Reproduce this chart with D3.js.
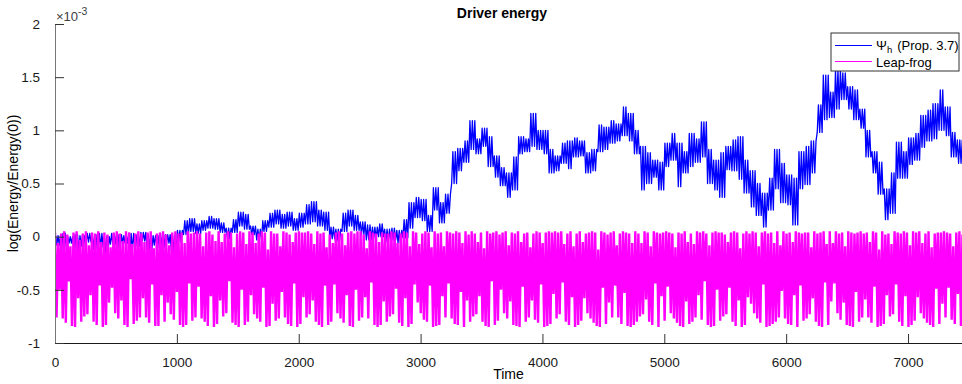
<!DOCTYPE html>
<html>
<head>
<meta charset="utf-8">
<script src="https://cdn.jsdelivr.net/npm/d3@7"></script>
<style>
body { margin: 0; background: #fff; }
text { font-family: "Liberation Sans", Arial, Helvetica, sans-serif; }
</style>
</head>
<body>
<div id="chart-area"></div>
<script>
// axis ticks
var xTicks = [0, 1000, 2000, 3000, 4000, 5000, 6000, 7000];
var yTicks = [-1, -0.5, 0, 0.5, 1, 1.5, 2];
var xMax = 7443;

// Psi_h (Prop. 3.7): max / min of the trace in each 50-unit time bin (x 1e-3)
var blueStep = 50;
var blueHi = [
 .01,.03,.00,.02,.01,.03,.02,.03,.00,.03,.02,.01,.03,.02,.04,.02,.01,.03,.02,.01,
 .06,.15,.17,.12,.15,.19,.17,.13,.08,.16,
 .23,.21,.10,.07,.15,.22,.25,.21,.23,.17,
 .22,.30,.33,.25,.23,.09,.07,.22,.25,.20,
 .14,.11,.09,.12,.07,.08,.06,.16,.32,.37,
 .35,.20,.46,.32,.40,.80,.83,.90,1.09,.92,
 1.02,.94,.76,.65,.60,.75,.94,.92,1.16,1.00,
 1.00,.82,.76,.88,.90,.93,.90,.79,.82,1.05,
 1.03,1.09,1.06,1.22,1.16,1.00,.85,.79,.72,.70,
 .88,.97,.88,.80,.97,.92,1.08,.82,.72,.79,
 .85,.91,.94,.72,.62,.50,.41,.55,.82,.69,
 .58,.55,.80,.85,.90,1.24,1.52,1.36,1.57,1.54,
 1.41,1.38,1.20,1.00,.80,.70,.45,.60,.89,.80,
 .93,.97,1.14,1.19,1.25,1.38,1.22,.98,.91
];
var blueLo = [
 -.08,-.12,-.06,-.14,-.09,-.05,-.12,-.10,-.15,-.07,-.11,-.06,-.13,-.09,-.04,-.12,-.08,-.10,-.06,-.13,
 -.05,.02,.05,.03,.06,.08,.07,.04,-.02,.04,
 .10,.07,.02,-.03,.05,.09,.12,.08,.10,.06,
 .09,.12,.14,.10,.06,-.02,-.04,.05,.10,.06,
 .02,-.03,-.02,.00,-.05,-.03,-.06,-.01,.08,.18,
 .15,.05,.25,.13,.22,.50,.62,.70,.82,.78,
 .85,.66,.56,.48,.37,.44,.78,.80,.85,.82,
 .78,.60,.62,.69,.64,.75,.76,.60,.62,.80,
 .82,.88,.90,.95,.90,.78,.44,.50,.56,.44,
 .66,.72,.47,.60,.66,.70,.75,.50,.44,.37,
 .63,.62,.54,.41,.28,.20,.09,.25,.45,.32,
 .30,.11,.45,.49,.60,.98,1.10,1.12,1.20,1.29,
 1.20,1.10,1.02,.75,.60,.40,.16,.22,.55,.55,
 .68,.72,.84,.90,.92,1.00,.95,.75,.69
];

// Leap-frog: peak and trough of every oscillation (x 1e-3), one row per scallop
var leapPeriod = 25.33;
var leapPeak = [
 .04,-.06,.03,.05,.02,-.09,.04,.05,-.03,
 .03,.05,-.08,.04,.03,.05,-.05,.04,.02,
 -.10,.04,.05,.03,-.04,.05,.04,-.07,.03,
 .05,.03,-.05,.04,.05,-.11,.03,.04,.05,
 .02,-.08,.04,.05,.03,.04,-.06,.05,.03,
 .04,.05,.03,-.09,.04,.05,.02,-.04,.05,
 -.05,.03,.05,.04,-.10,.03,.05,.04,-.07,
 .05,.04,-.06,.03,.05,.04,-.12,.05,.03,
 .03,-.09,.05,.04,.02,-.05,.04,.05,.04,
 .04,.05,.03,-.07,.05,.03,.04,-.10,.02,
 -.06,.04,.05,.03,-.08,.04,.05,.03,.05,
 .05,.02,-.11,.05,.04,.03,-.05,.04,.03,
 .03,.05,.04,-.06,.03,.05,.04,-.09,.05,
 .04,-.07,.03,.05,.04,-.10,.05,.03,.04,
 -.09,.05,.04,.03,.05,.04,-.06,.05,.02,
 .05,.03,-.05,.04,-.11,.05,.03,.04,.05,
 .02,.04,.05,-.08,.04,.03,.05,-.05,.03,
 .04,-.10,.03,.05,.04,-.06,.04,.05,.04,
 .05,.04,.05,-.07,.03,.05,-.09,.03,.05,
 -.05,.03,.04,.05,.04,-.12,.05,.04,.02,
 .04,.05,-.08,.03,.05,.04,.03,-.06,.05,
 .03,-.06,.05,.04,-.09,.05,.04,.03,.04,
 .05,.04,.03,-.10,.04,.03,.05,-.05,.03,
 -.07,.05,.04,.05,.03,-.08,.04,.05,.04,
 .04,.02,-.05,.04,.05,.04,-.11,.03,.05,
 .03,.05,.04,-.09,.04,.05,.03,.04,-.06,
 .05,-.08,.05,.03,.04,-.05,.05,.04,.03,
 .04,.04,-.10,.05,.03,.04,.05,-.07,.05,
 -.06,.05,.03,.04,-.09,.05,.04,.03,.04,
 .05,.03,.04,-.05,.05,.04,-.12,.05,.02,
 .03,-.07,.05,.04,.03,.05,.04,-.08,.05,
 .04,.05,-.06,.03,.05,-.10,.03,.04,.04,
 .05,.04,.03,-.09,.04,.05,.02,-.05,.03
];
var leapTrough = [
 -.76,-.50,-.77,-.81,-.42,-.84,-.85,-.58,-.80,
 -.75,-.73,-.55,-.80,-.83,-.46,-.85,-.83,-.62,
 -.48,-.72,-.77,-.60,-.83,-.85,-.40,-.82,-.79,
 -.76,-.58,-.76,-.81,-.45,-.84,-.84,-.55,-.80,
 -.62,-.73,-.78,-.52,-.83,-.85,-.83,-.44,-.79,
 -.76,-.47,-.77,-.80,-.84,-.56,-.85,-.82,-.60,
 -.75,-.72,-.42,-.81,-.83,-.85,-.50,-.83,-.80,
 -.55,-.73,-.77,-.80,-.48,-.85,-.84,-.63,-.79,
 -.77,-.52,-.76,-.82,-.84,-.44,-.85,-.82,-.57,
 -.76,-.73,-.60,-.80,-.83,-.85,-.46,-.83,-.80,
 -.45,-.72,-.77,-.81,-.55,-.84,-.85,-.50,-.79,
 -.76,-.57,-.77,-.43,-.83,-.85,-.83,-.61,-.80,
 -.75,-.73,-.49,-.81,-.84,-.58,-.85,-.82,-.45,
 -.62,-.72,-.78,-.80,-.46,-.85,-.84,-.83,-.56,
 -.76,-.44,-.77,-.82,-.83,-.52,-.85,-.60,-.80,
 -.75,-.73,-.56,-.80,-.84,-.85,-.42,-.83,-.79,
 -.50,-.72,-.77,-.61,-.83,-.84,-.85,-.47,-.80,
 -.76,-.60,-.78,-.81,-.45,-.85,-.84,-.82,-.54,
 -.77,-.73,-.43,-.80,-.83,-.57,-.85,-.83,-.79,
 -.58,-.72,-.77,-.81,-.84,-.85,-.48,-.82,-.62,
 -.76,-.46,-.76,-.82,-.53,-.84,-.85,-.83,-.80,
 -.75,-.73,-.59,-.80,-.83,-.44,-.85,-.56,-.79,
 -.47,-.72,-.77,-.81,-.84,-.85,-.61,-.82,-.80,
 -.76,-.55,-.78,-.42,-.83,-.85,-.84,-.50,-.79,
 -.75,-.73,-.48,-.80,-.84,-.60,-.85,-.83,-.57,
 -.63,-.72,-.77,-.81,-.45,-.85,-.84,-.82,-.80,
 -.76,-.51,-.77,-.82,-.83,-.55,-.85,-.46,-.79,
 -.77,-.73,-.58,-.80,-.84,-.85,-.43,-.83,-.61,
 -.44,-.72,-.78,-.62,-.83,-.84,-.85,-.52,-.80,
 -.76,-.59,-.76,-.81,-.47,-.85,-.84,-.82,-.55,
 -.75,-.73,-.45,-.80,-.84,-.56,-.85,-.83,-.79,
 -.57,-.72,-.77,-.81,-.83,-.85,-.49,-.82,-.63,
 -.76,-.48,-.78,-.82,-.54,-.84,-.85,-.60,-.80
];

// set the dimensions and margins of the graph
var W = 962, H = 384;
var margin = {top: 24, right: 0, bottom: 41, left: 55},
    width = W - margin.left - margin.right,
    height = H - margin.top - margin.bottom;

var svg = d3.select("#chart-area")
  .append("svg")
  .attr("width", W)
  .attr("height", H);

var g = svg.append("g")
  .attr("transform", `translate(${margin.left}, ${margin.top})`);

var x = d3.scaleLinear().domain([0, xMax]).range([0, width]);
var y = d3.scaleLinear().domain([-1, 2]).range([height, 0]);

g.append("clipPath").attr("id", "plot-clip")
  .append("rect").attr("width", width).attr("height", height);

// build the point lists: each bin drawn as strokes between its max and min
var bluePts = [];
blueHi.forEach((h, i) => {
  var t0 = i * blueStep, lo = blueLo[i];
  var seq = (i % 2 == 0) ? [h, lo, h, lo, h] : [lo, h, lo, h, lo];
  seq.forEach((v, k) => bluePts.push([t0 + 5 + k * 10, v]));
});
var leapPts = [];
leapPeak.forEach((p, i) => {
  leapPts.push([i * leapPeriod, p]);
  leapPts.push([(i + 0.5) * leapPeriod, leapTrough[i]]);
});

var line = d3.line().x(d => x(d[0])).y(d => y(d[1]));

var lines = g.append("g").attr("clip-path", "url(#plot-clip)");
lines.append("path")
  .datum(bluePts)
  .attr("d", line)
  .attr("fill", "none")
  .attr("stroke", "#0000ff")
  .attr("stroke-width", 1.3)
  .attr("stroke-linejoin", "round");
lines.append("path")
  .datum(leapPts)
  .attr("d", line)
  .attr("fill", "none")
  .attr("stroke", "#ff00ff")
  .attr("stroke-width", 2.4);

// axes (ticks point inwards, MATLAB style)
var xAxis = d3.axisBottom(x).tickValues(xTicks).tickSizeInner(-9).tickSizeOuter(0).tickPadding(14)
  .tickFormat(d3.format("d"));
var yAxis = d3.axisLeft(y).tickValues(yTicks).tickSizeInner(-9).tickSizeOuter(0).tickPadding(15)
  .tickFormat(d => String(d));

var xg = g.append("g").attr("transform", `translate(0, ${height})`).call(xAxis);
var yg = g.append("g").call(yAxis);

xg.select(".domain").attr("stroke", "#1a1a1a");
yg.select(".domain").attr("stroke", "#777");
xg.selectAll(".tick line").attr("stroke", "#333");
yg.selectAll(".tick line").attr("stroke", "#333");
[xg, yg].forEach(a => a.selectAll(".tick text")
  .attr("font-size", "13.5px").attr("fill", "#1a1a1a")
  .style("font-family", "'Liberation Sans', Arial, sans-serif"));

// exponent label
var ex = g.append("text").attr("x", 1).attr("y", -3)
  .attr("font-size", "13px").attr("fill", "#404040");
ex.append("tspan").text("\u00d710");
ex.append("tspan").attr("dy", -6).attr("font-size", "10.5px").text("-3");

// title and axis labels
svg.append("text")
  .attr("x", 502).attr("y", 18)
  .attr("text-anchor", "middle")
  .attr("font-weight", "bold")
  .attr("font-size", "14px")
  .text("Driver energy");

svg.append("text")
  .attr("x", margin.left + width / 2).attr("y", 379)
  .attr("text-anchor", "middle")
  .attr("font-size", "14px")
  .text("Time");

svg.append("text")
  .attr("transform", `translate(18, ${margin.top + height / 2}) rotate(-90)`)
  .attr("text-anchor", "middle")
  .attr("font-size", "14px")
  .text("log(Energy/Energy(0))");

// legend
var lg = svg.append("g").attr("transform", "translate(831, 33)");
lg.append("rect").attr("width", 128).attr("height", 38)
  .attr("fill", "#fff").attr("stroke", "#333").attr("stroke-width", 1);
var legendItems = [
  {color: "#0000ff", y: 12.5},
  {color: "#ff00ff", y: 28.5}
];
lg.selectAll("line.key").data(legendItems).enter().append("line")
  .attr("x1", 4).attr("x2", 41)
  .attr("y1", d => d.y).attr("y2", d => d.y)
  .attr("stroke", d => d.color).attr("stroke-width", 1);
var t1 = lg.append("text").attr("x", 45).attr("y", 16.5).attr("font-size", "13px");
t1.append("tspan").text("\u03a8");
t1.append("tspan").attr("dy", 3).attr("font-size", "9.5px").text("h");
t1.append("tspan").attr("dy", -3).attr("dx", 5).text("(Prop. 3.7)");
lg.append("text").attr("x", 45).attr("y", 34).attr("font-size", "13px").text("Leap-frog");
</script>
</body>
</html>
